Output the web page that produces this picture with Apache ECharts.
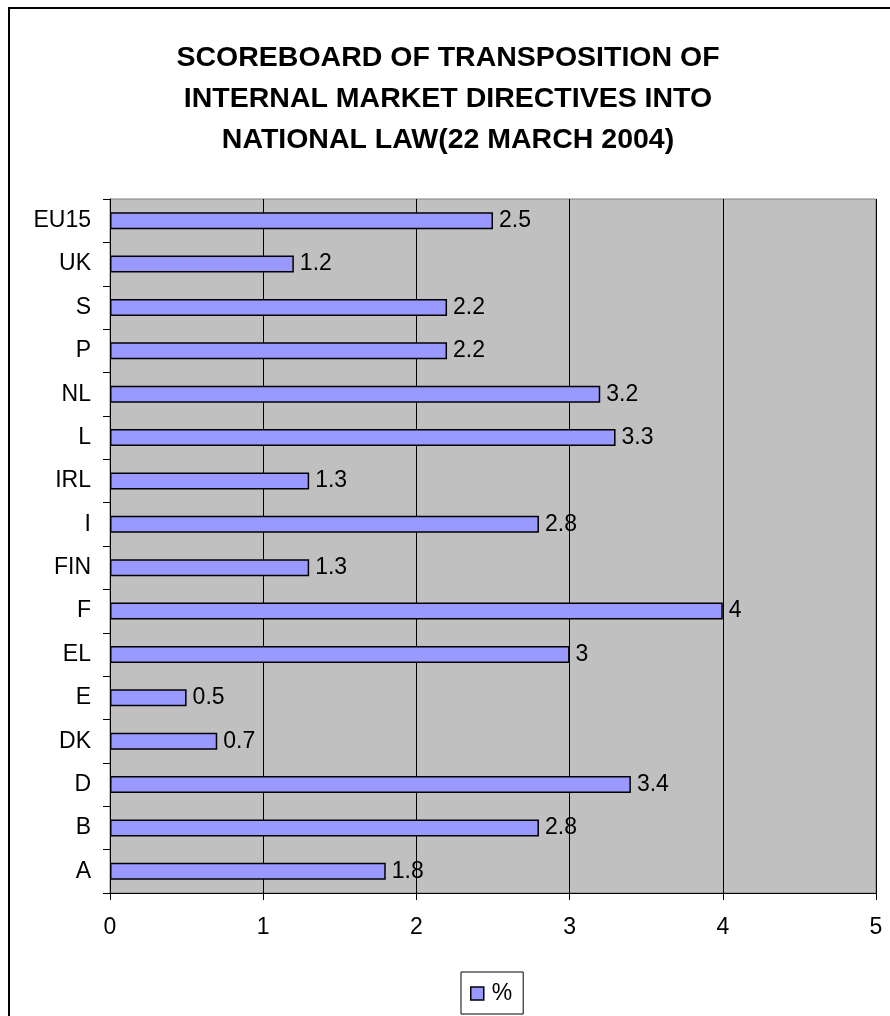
<!DOCTYPE html>
<html>
<head>
<meta charset="utf-8">
<title>Scoreboard of transposition</title>
<script src="https://cdn.jsdelivr.net/npm/echarts@6/dist/echarts.min.js"></script>
<style>
  html, body { margin: 0; padding: 0; background: #fff; }
  #chart { width: 890px; height: 1016px; }
</style>
</head>
<body>
<div id="chart"></div>
<script>
// Member states, listed bottom to top as they appear on the category axis
const countries = ['A', 'B', 'D', 'DK', 'E', 'EL', 'F', 'FIN', 'I', 'IRL', 'L', 'NL', 'P', 'S', 'UK', 'EU15'];
// Transposition deficit, %
const deficit = [1.8, 2.8, 3.4, 0.7, 0.5, 3, 4, 1.3, 2.8, 1.3, 3.3, 3.2, 2.2, 2.2, 1.2, 2.5];
const seriesName = '%';
const titleText = 'SCOREBOARD OF TRANSPOSITION OF\nINTERNAL MARKET DIRECTIVES INTO\nNATIONAL LAW(22 MARCH 2004)';

const FONT = '"Liberation Sans", Arial, sans-serif';
const chart = echarts.init(document.getElementById('chart'), null, { renderer: 'canvas' });

chart.setOption({
  animation: false,
  backgroundColor: '#ffffff',
  textStyle: { fontFamily: FONT, color: '#000' },
  graphic: [{
    type: 'rect',
    z: 100,
    shape: { x: 9, y: 8, width: 1000, height: 1100 },
    style: { fill: 'none', stroke: '#000', lineWidth: 2 },
    silent: true
  }],
  title: {
    text: titleText,
    left: 443,
    top: 33,
    textAlign: 'center',
    textStyle: {
      fontFamily: FONT,
      fontSize: 28.5,
      fontWeight: 'bold',
      lineHeight: 41,
      color: '#000'
    }
  },
  legend: {
    data: [seriesName],
    left: 461,
    top: 972,
    orient: 'horizontal',
    padding: [10, 11, 9, 9],
    borderColor: '#000',
    borderWidth: 1,
    itemWidth: 13,
    itemHeight: 13,
    icon: 'rect',
    itemStyle: { color: '#9999FF', borderColor: '#000', borderWidth: 1.5 },
    textStyle: { fontFamily: FONT, fontSize: 23, color: '#000', padding: [0, 0, 0, 3] }
  },
  grid: {
    left: 110,
    top: 199,
    right: 14,
    bottom: 123,
    show: true,
    backgroundColor: '#C0C0C0',
    borderColor: '#808080',
    borderWidth: 1
  },
  xAxis: {
    type: 'value',
    min: 0,
    max: 5,
    interval: 1,
    axisLine: { show: true, lineStyle: { color: '#000', width: 1 } },
    axisTick: { show: true, length: 7, lineStyle: { color: '#000' } },
    splitLine: { show: true, lineStyle: { color: '#000', width: 1 } },
    axisLabel: { fontFamily: FONT, fontSize: 23, color: '#000', margin: 23 }
  },
  yAxis: {
    type: 'category',
    data: countries,
    axisLine: { show: true, lineStyle: { color: '#000', width: 1 } },
    axisTick: { show: true, length: 7, lineStyle: { color: '#000' } },
    axisLabel: { fontFamily: FONT, fontSize: 23, color: '#000', margin: 19 }
  },
  series: [{
    name: seriesName,
    type: 'bar',
    data: deficit,
    barWidth: 17,
    itemStyle: { color: '#9999FF', borderColor: '#000', borderWidth: 1.5 },
    label: {
      show: true,
      position: 'right',
      distance: 6,
      fontFamily: FONT,
      fontSize: 23,
      color: '#000'
    }
  }]
});
</script>
</body>
</html>
